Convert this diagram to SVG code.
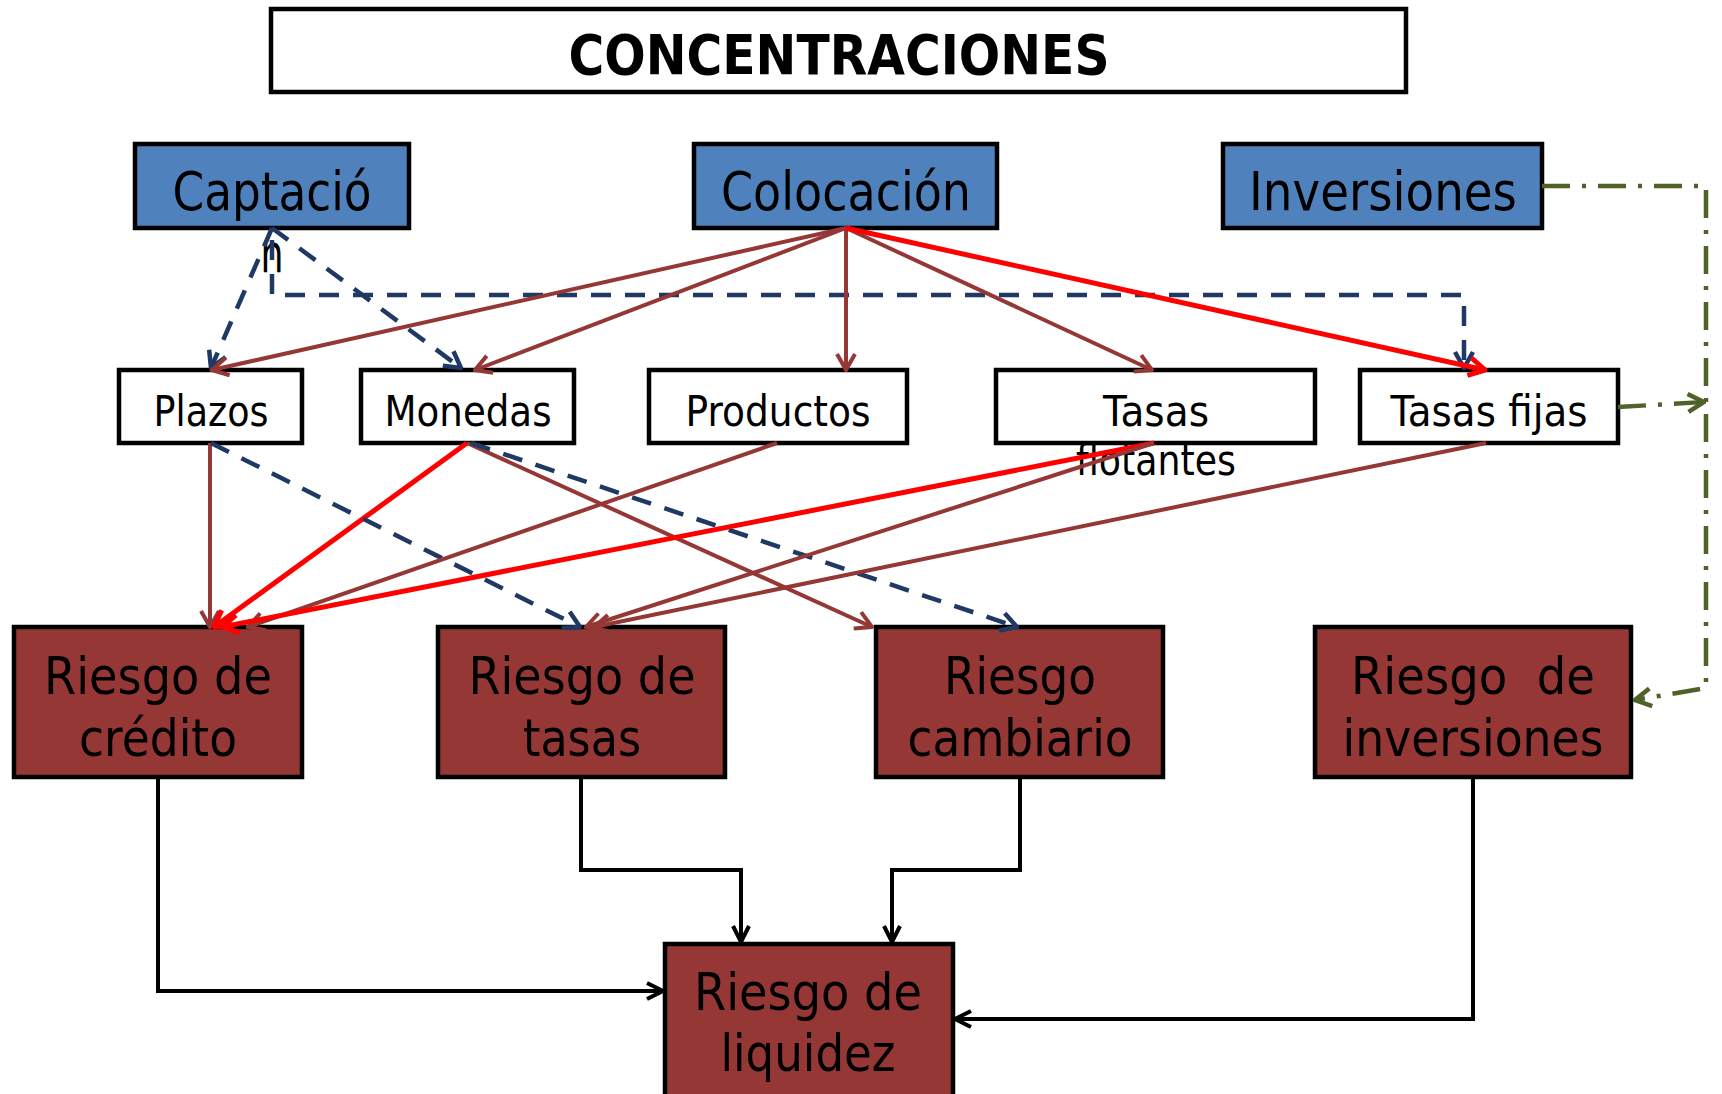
<svg xmlns="http://www.w3.org/2000/svg" width="1722" height="1094" viewBox="0 0 1722 1094">
<defs>
<style>
.box{stroke:#000;stroke-width:4.5}
.blue{fill:#4F81BD}
.white{fill:#fff}
.red{fill:#953735}
text{font-family:"DejaVu Sans","Liberation Sans",sans-serif;fill:#000;text-anchor:middle}
.t1{font-size:56px;font-weight:bold}
.t2{font-size:54px}
.t3{font-size:43px}
.t4{font-size:52px}
.c{fill:none}
.brown{stroke:#953735;stroke-width:4}
.rl{stroke:#FF0000;stroke-width:5}
.navy{stroke:#1F3864;stroke-width:4.5;stroke-dasharray:20 14}
.green{stroke:#4F6228;stroke-width:4.5;stroke-dasharray:28 12 4 12}
.blk{stroke:#000;stroke-width:4}
</style>
<marker id="aBrown" viewBox="0 0 24 24" refX="22" refY="12" markerWidth="24" markerHeight="24" markerUnits="userSpaceOnUse" orient="auto"><path d="M6,3 L22,12 L6,21" fill="none" stroke="#953735" stroke-width="4"/></marker>
<marker id="aRed" viewBox="0 0 24 24" refX="22" refY="12" markerWidth="24" markerHeight="24" markerUnits="userSpaceOnUse" orient="auto"><path d="M6,3 L22,12 L6,21" fill="none" stroke="#FF0000" stroke-width="5"/></marker>
<marker id="aNavy" viewBox="0 0 24 24" refX="22" refY="12" markerWidth="24" markerHeight="24" markerUnits="userSpaceOnUse" orient="auto"><path d="M6,3 L22,12 L6,21" fill="none" stroke="#1F3864" stroke-width="4.5"/></marker>
<marker id="aBlk" viewBox="0 0 24 24" refX="22" refY="12" markerWidth="24" markerHeight="24" markerUnits="userSpaceOnUse" orient="auto"><path d="M6,4 L22,12 L6,20" fill="none" stroke="#000" stroke-width="4"/></marker>
<marker id="aGreen" viewBox="0 0 24 24" refX="22" refY="12" markerWidth="24" markerHeight="24" markerUnits="userSpaceOnUse" orient="auto"><path d="M6,3 L22,12 L6,21" fill="none" stroke="#4F6228" stroke-width="4.5"/></marker>
</defs>
<rect width="1722" height="1094" fill="#fff"/>

<g id="title">
<rect class="box white" x="271" y="9" width="1135" height="83"/>
<text class="t1" x="839" y="74" textLength="541" lengthAdjust="spacingAndGlyphs">CONCENTRACIONES</text>
</g>

<g id="captacion">
<rect class="box blue" x="135" y="144" width="274" height="84"/>
<text class="t2" x="272" y="210" textLength="199" lengthAdjust="spacingAndGlyphs">Captació</text>
<text class="t2" x="272" y="272" textLength="23" lengthAdjust="spacingAndGlyphs">n</text>
</g>
<g id="colocacion">
<rect class="box blue" x="694" y="144" width="303" height="84"/>
<text class="t2" x="846" y="210" textLength="250" lengthAdjust="spacingAndGlyphs">Colocación</text>
</g>
<g id="inversiones">
<rect class="box blue" x="1223" y="144" width="319" height="84"/>
<text class="t2" x="1383" y="210" textLength="268" lengthAdjust="spacingAndGlyphs">Inversiones</text>
</g>

<g id="plazos">
<rect class="box white" x="119" y="370" width="183" height="73"/>
<text class="t3" x="211" y="426" textLength="115" lengthAdjust="spacingAndGlyphs">Plazos</text>
</g>
<g id="monedas">
<rect class="box white" x="361" y="370" width="213" height="73"/>
<text class="t3" x="468" y="426" textLength="167" lengthAdjust="spacingAndGlyphs">Monedas</text>
</g>
<g id="productos">
<rect class="box white" x="649" y="370" width="258" height="73"/>
<text class="t3" x="778" y="426" textLength="185" lengthAdjust="spacingAndGlyphs">Productos</text>
</g>
<g id="tasas-flotantes">
<rect class="box white" x="996" y="370" width="319" height="73"/>
<text class="t3" x="1156" y="426" textLength="106" lengthAdjust="spacingAndGlyphs">Tasas</text>
<text class="t3" x="1156" y="475" textLength="160" lengthAdjust="spacingAndGlyphs">flotantes</text>
</g>
<g id="tasas-fijas">
<rect class="box white" x="1360" y="370" width="258" height="73"/>
<text class="t3" x="1489" y="426" textLength="197" lengthAdjust="spacingAndGlyphs">Tasas fijas</text>
</g>

<g id="riesgo-credito">
<rect class="box red" x="14" y="627" width="288" height="150"/>
<text class="t4" x="158" y="694" textLength="228" lengthAdjust="spacingAndGlyphs">Riesgo de</text>
<text class="t4" x="158" y="756" textLength="158" lengthAdjust="spacingAndGlyphs">crédito</text>
</g>
<g id="riesgo-tasas">
<rect class="box red" x="438" y="627" width="287" height="150"/>
<text class="t4" x="582" y="694" textLength="227" lengthAdjust="spacingAndGlyphs">Riesgo de</text>
<text class="t4" x="582" y="756" textLength="118" lengthAdjust="spacingAndGlyphs">tasas</text>
</g>
<g id="riesgo-cambiario">
<rect class="box red" x="876" y="627" width="287" height="150"/>
<text class="t4" x="1020" y="694" textLength="152" lengthAdjust="spacingAndGlyphs">Riesgo</text>
<text class="t4" x="1020" y="756" textLength="225" lengthAdjust="spacingAndGlyphs">cambiario</text>
</g>
<g id="riesgo-inversiones">
<rect class="box red" x="1315" y="627" width="316" height="150"/>
<text class="t4" x="1473" y="694" textLength="244" lengthAdjust="spacingAndGlyphs" xml:space="preserve">Riesgo  de</text>
<text class="t4" x="1473" y="756" textLength="261" lengthAdjust="spacingAndGlyphs">inversiones</text>
</g>
<g id="riesgo-liquidez">
<rect class="box red" x="665" y="944" width="288" height="155"/>
<text class="t4" x="808" y="1010" textLength="228" lengthAdjust="spacingAndGlyphs">Riesgo de</text>
<text class="t4" x="808" y="1071" textLength="175" lengthAdjust="spacingAndGlyphs">liquidez</text>
</g>

<g id="connectors" class="c">
<path class="navy c" d="M272,228 L211,368" marker-end="url(#aNavy)"/>
<path class="navy c" d="M272,228 L461,368" marker-end="url(#aNavy)"/>
<path class="navy c" d="M272,240 L272,295 L1464,295 L1464,368" marker-end="url(#aNavy)"/>
<path class="brown c" d="M846,228 L212,370" marker-end="url(#aBrown)"/>
<path class="brown c" d="M846,228 L475,370" marker-end="url(#aBrown)"/>
<path class="brown c" d="M846,228 L846,370" marker-end="url(#aBrown)"/>
<path class="brown c" d="M846,228 L1152,370" marker-end="url(#aBrown)"/>
<path class="rl c" d="M846,228 L1485,370" marker-end="url(#aRed)"/>
<path class="brown c" d="M210,443 L210,627" marker-end="url(#aBrown)"/>
<path class="rl c" d="M467,443 L214,627" marker-end="url(#aRed)"/>
<path class="brown c" d="M467,443 L872,627" marker-end="url(#aBrown)"/>
<path class="navy c" d="M471,443 L1017,627" marker-end="url(#aNavy)"/>
<path class="navy c" d="M211,443 L580,627" marker-end="url(#aNavy)"/>
<path class="brown c" d="M777,443 L248,627" marker-end="url(#aBrown)"/>
<path class="rl c" d="M1154,443 L222,627" marker-end="url(#aRed)"/>
<path class="brown c" d="M1154,443 L586,627" marker-end="url(#aBrown)"/>
<path class="brown c" d="M1486,443 L594,627" marker-end="url(#aBrown)"/>
<path class="green c" d="M1542,186 L1706,186 L1706,688 L1635,700" marker-end="url(#aGreen)"/>
<path class="green c" d="M1618,407 L1704,402" marker-end="url(#aGreen)"/>
<path class="blk c" d="M158,777 L158,991 L663,991" marker-end="url(#aBlk)"/>
<path class="blk c" d="M581,777 L581,870 L741,870 L741,942" marker-end="url(#aBlk)"/>
<path class="blk c" d="M1020,777 L1020,870 L892,870 L892,942" marker-end="url(#aBlk)"/>
<path class="blk c" d="M1473,777 L1473,1019 L955,1019" marker-end="url(#aBlk)"/>
</g>
</svg>
